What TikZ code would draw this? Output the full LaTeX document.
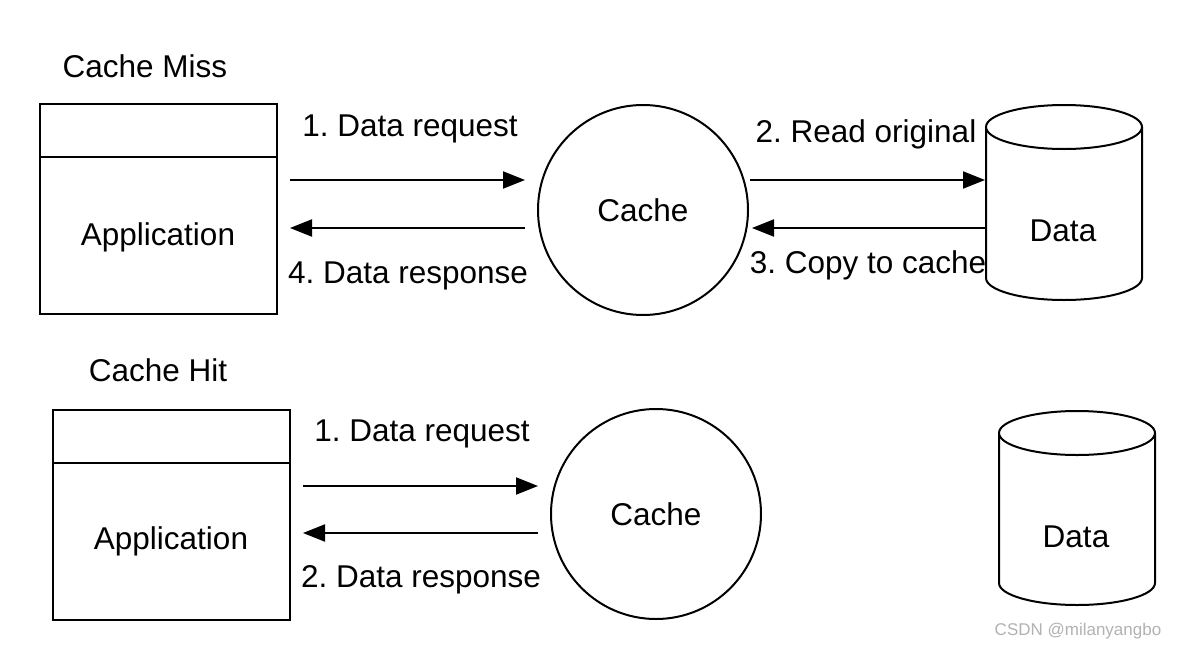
\documentclass[tikz,border=0pt]{standalone}
\usepackage{fontspec}
\setmainfont{Liberation Sans}
\usetikzlibrary{arrows.meta}
\frenchspacing
\begin{document}
\begin{tikzpicture}[x=1pt,y=-1pt,line width=2pt,
  txt/.style={font=\fontsize{31.5}{36}\selectfont,inner sep=0},
  arr/.style={-{Triangle[length=22pt,width=17pt]},line width=2pt},
  circ/.style={draw,circle,minimum size=210pt,inner sep=0,font=\fontsize{31.5}{36}\selectfont}]
\useasboundingbox (0,0) rectangle (1184,651);
\fill[white] (0,0) rectangle (1184,651);
% Cache Miss
\node[txt] (t1) at (145,66) {Cache Miss};
\draw (40,104) rectangle (277,314);
\draw (40,157) -- (277,157);
\node[txt] (app1) at (158,237) {Application};
\coordinate (a1) at (290,180); \coordinate (b1) at (525,180);
\coordinate (a2) at (525,228); \coordinate (b2) at (290,228);
\draw[arr] (a1) -- (b1); \draw[arr] (a2) -- (b2);
\node[txt] (l1) at (410,129) {1. Data request};
\node[txt] (l4) at (408,276) {4. Data response};
\node[circ] (c1) at (643,210) {Cache};
\coordinate (a3) at (750,180); \coordinate (b3) at (985,180);
\coordinate (a4) at (985,228); \coordinate (b4) at (752,228);
\draw[arr] (a3) -- (b3); \draw[arr] (a4) -- (b4);
\node[txt] (l2) at (866,134) {2. Read original};
\node[txt] (l3) at (868,265) {3. Copy to cache};
\draw[fill=white] (986,127) -- (986,278) arc[start angle=180,end angle=360,x radius=78,y radius=-22] -- (1142,127);
\draw[fill=white] (1064,127) ellipse[x radius=78,y radius=22];
\node[txt] (d1) at (1063,231) {Data};
% Cache Hit
\node[txt] (t2) at (158,370) {Cache Hit};
\draw (53,410) rectangle (290,620);
\draw (53,463) -- (290,463);
\node[txt] (app2) at (171,541) {Application};
\coordinate (a5) at (303,486); \coordinate (b5) at (538,486);
\coordinate (a6) at (538,533); \coordinate (b6) at (303,533);
\draw[arr] (a5) -- (b5); \draw[arr] (a6) -- (b6);
\node[txt] (l5) at (422,434) {1. Data request};
\node[txt] (l6) at (421,580) {2. Data response};
\node[circ] (c2) at (656,514) {Cache};
\draw[fill=white] (999,433) -- (999,583) arc[start angle=180,end angle=360,x radius=78,y radius=-22] -- (1155,433);
\draw[fill=white] (1077,433) ellipse[x radius=78,y radius=22];
\node[txt] (d2) at (1076,537) {Data};
\node[font=\fontsize{17}{20}\selectfont,text=gray!60,inner sep=0] (wm) at (1078,631) {CSDN @milanyangbo};
\end{tikzpicture}
\end{document}
